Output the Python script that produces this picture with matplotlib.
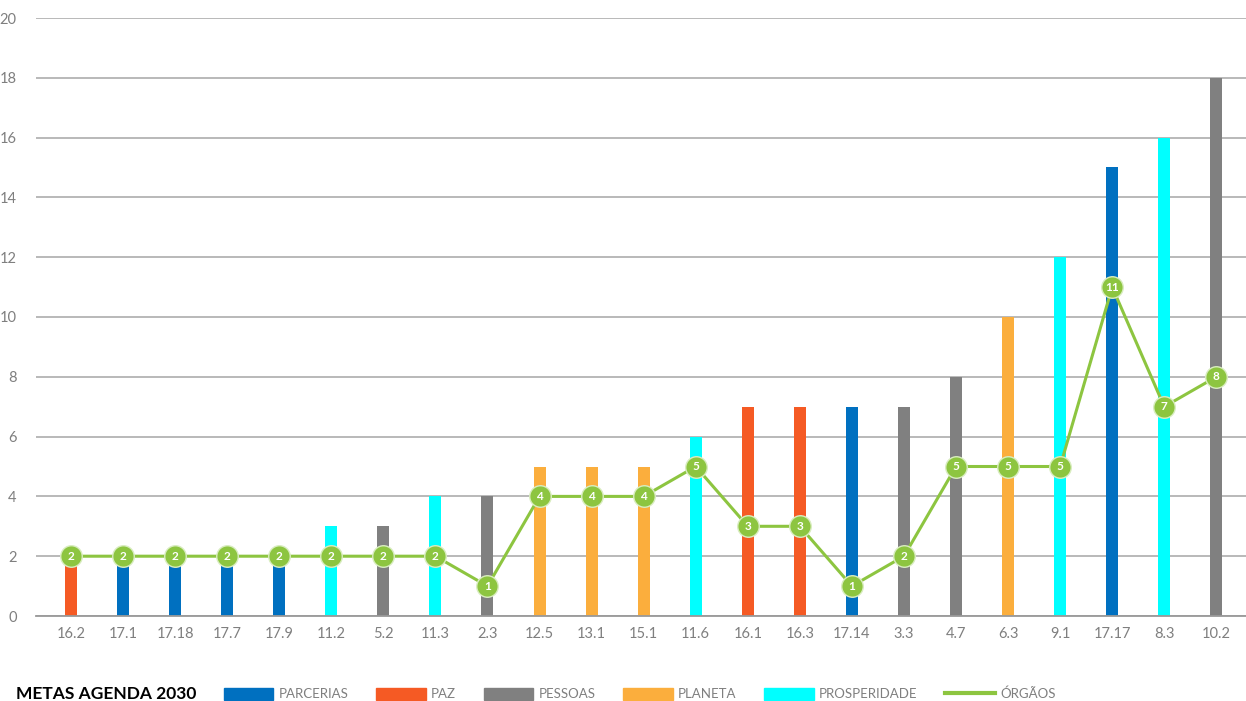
#Metas Agenda 2030 - bars by pillar plus number of organs (line)

import numpy as np
import matplotlib.pyplot as plt
from matplotlib.patches import Patch
from matplotlib.lines import Line2D

plt.rcParams['font.family'] = ['Lato', 'DejaVu Sans']

#Data
metas = ['16.2', '17.1', '17.18', '17.7', '17.9', '11.2', '5.2', '11.3', '2.3', '12.5',
         '13.1', '15.1', '11.6', '16.1', '16.3', '17.14', '3.3', '4.7', '6.3', '9.1',
         '17.17', '8.3', '10.2']
valores = [2, 2, 2, 2, 2, 3, 3, 4, 4, 5, 5, 5, 6, 7, 7, 7, 7, 8, 10, 12, 15, 16, 18]
eixo = ['PAZ', 'PARCERIAS', 'PARCERIAS', 'PARCERIAS', 'PARCERIAS', 'PROSPERIDADE', 'PESSOAS',
        'PROSPERIDADE', 'PESSOAS', 'PLANETA', 'PLANETA', 'PLANETA', 'PROSPERIDADE', 'PAZ',
        'PAZ', 'PARCERIAS', 'PESSOAS', 'PESSOAS', 'PLANETA', 'PROSPERIDADE', 'PARCERIAS',
        'PROSPERIDADE', 'PESSOAS']
orgaos = [2, 2, 2, 2, 2, 2, 2, 2, 1, 4, 4, 4, 5, 3, 3, 1, 2, 5, 5, 5, 11, 7, 8]

grupos = ['PARCERIAS', 'PAZ', 'PESSOAS', 'PLANETA', 'PROSPERIDADE']
cores = {'PARCERIAS': '#0070C0', 'PAZ': '#F55A24', 'PESSOAS': '#808080',
         'PLANETA': '#FBAE3D', 'PROSPERIDADE': '#00FFFF'}
verde = '#8DC540'
cinza = '#7F7F7F'

fig = plt.figure(figsize=(12.46, 7.01), dpi=100)
ax = fig.add_axes([36/1246, 1 - 616/701, 1 - 36/1246, (616 - 18)/701])

x = np.arange(len(metas))
ax.bar(x, valores, width=0.23, color=[cores[e] for e in eixo], zorder=2)

ax.plot(x, orgaos, color=verde, lw=2.2, marker='o', markersize=15.5,
        markerfacecolor=verde, markeredgecolor='#D9EDC0', markeredgewidth=1, zorder=3)
for xi, v in zip(x, orgaos):
    ax.text(xi, v, str(v), ha='center', va='center', color='white',
            fontsize=8.5, fontweight='bold', zorder=4)

ax.set_ylim(0, 20)
ax.set_yticks(range(0, 21, 2))
ax.set_xlim(-0.672, 22.57)
ax.set_xticks(x)
ax.set_xticklabels(metas)
ax.yaxis.grid(True, color='#B3B3B3', lw=1.3, zorder=0)
ax.set_axisbelow(True)
for s in ['top', 'right', 'left']:
    ax.spines[s].set_visible(False)
ax.spines['bottom'].set_color('#999999')
ax.spines['bottom'].set_linewidth(1.3)
ax.tick_params(axis='both', length=0, colors=cinza, labelsize=10.5)
ax.tick_params(axis='y', pad=14)
ax.tick_params(axis='x', pad=8)

#Legend
fig.text(16/1246, 1 - 694/701, 'METAS AGENDA 2030', fontsize=12.5, fontweight='bold',
         color='black', va='center', ha='left')
handles = [Patch(color=cores[g]) for g in grupos] + [Line2D([], [], color=verde, lw=3)]
labels = grupos + ['ÓRGÃOS']
leg = fig.legend(handles, labels, loc='center left', bbox_to_anchor=(224/1246, 1 - 694/701),
                 ncol=6, frameon=False, fontsize=9.5, handlelength=3.75, handleheight=1.1,
                 handletextpad=0.4, columnspacing=2.1, borderaxespad=0, borderpad=0)
for t in leg.get_texts():
    t.set_color(cinza)

fig.savefig('out.png', dpi=100)
